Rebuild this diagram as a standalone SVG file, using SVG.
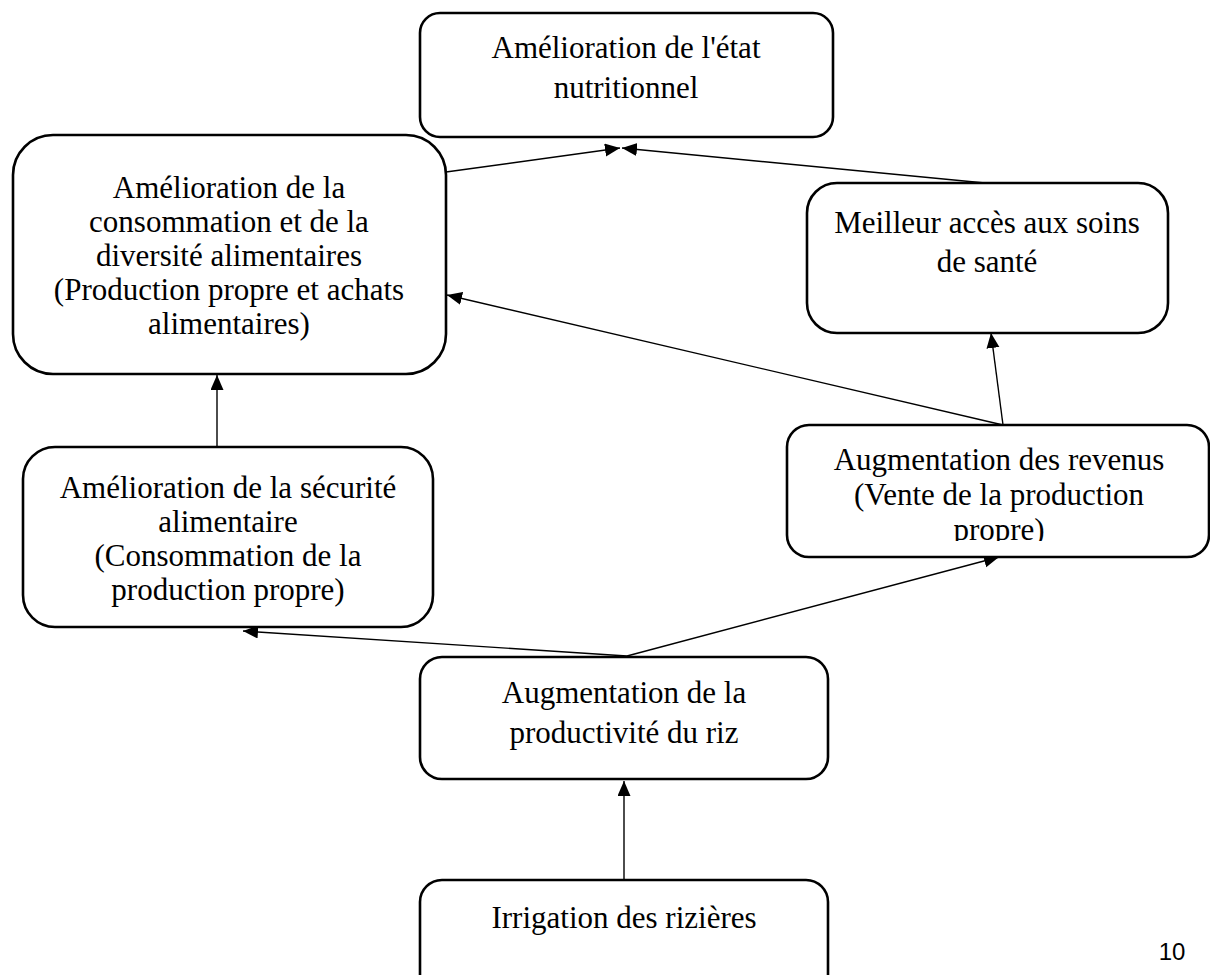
<svg xmlns="http://www.w3.org/2000/svg" width="1210" height="975" viewBox="0 0 1210 975">
<defs>
<marker id="arr" markerUnits="userSpaceOnUse" markerWidth="16" markerHeight="14" refX="15" refY="6.5" orient="auto">
<path d="M0,0 L15,6.5 L0,13 z" fill="#000"/>
</marker>
<clipPath id="clip4"><rect x="780" y="420" width="440" height="121"/></clipPath>
</defs>
<style>
.box{fill:#fff;stroke:#000;stroke-width:2.6}
.t{font-family:"Liberation Serif","Times New Roman",serif;font-size:31px;fill:#000;text-anchor:middle}
.c{stroke:#000;stroke-width:1.4;fill:none;marker-end:url(#arr)}
.pn{font-family:"Liberation Sans",Arial,sans-serif;font-size:24px;fill:#000;text-anchor:middle}
</style>
<rect width="1210" height="975" fill="#fff"/>
<g id="connectors">
<line class="c" x1="446" y1="172" x2="620" y2="148"/>
<line class="c" x1="985" y1="183" x2="622" y2="148"/>
<line class="c" x1="1003" y1="425" x2="447" y2="295"/>
<line class="c" x1="1003" y1="425" x2="991" y2="333"/>
<line class="c" x1="217" y1="447" x2="217" y2="375"/>
<line class="c" x1="627" y1="656" x2="243" y2="631"/>
<line class="c" x1="627" y1="656" x2="999" y2="557"/>
<line class="c" x1="624" y1="880" x2="624" y2="781"/>
</g>
<g id="n1">
<rect class="box" x="420" y="13" width="413" height="124" rx="20"/>
<text class="t" x="626" y="58">Amélioration de l'état</text>
<text class="t" x="626" y="98">nutritionnel</text>
</g>
<g id="n2">
<rect class="box" x="13" y="135" width="433" height="239" rx="40"/>
<text class="t" x="229" y="198">Amélioration de la</text>
<text class="t" x="229" y="232">consommation et de la</text>
<text class="t" x="229" y="266">diversité alimentaires</text>
<text class="t" x="229" y="300">(Production propre et achats</text>
<text class="t" x="229" y="334">alimentaires)</text>
</g>
<g id="n3">
<rect class="box" x="807" y="183" width="361" height="150" rx="30"/>
<text class="t" x="987" y="233">Meilleur accès aux soins</text>
<text class="t" x="987" y="272">de santé</text>
</g>
<g id="n4">
<rect class="box" x="787" y="425" width="422" height="132" rx="22"/>
<g clip-path="url(#clip4)">
<text class="t" x="999" y="470">Augmentation des revenus</text>
<text class="t" x="999" y="505">(Vente de la production</text>
<text class="t" x="999" y="540">propre)</text>
</g>
</g>
<g id="n5">
<rect class="box" x="23" y="447" width="410" height="180" rx="32"/>
<text class="t" x="228" y="498">Amélioration de la sécurité</text>
<text class="t" x="228" y="532">alimentaire</text>
<text class="t" x="228" y="566">(Consommation de la</text>
<text class="t" x="228" y="600">production propre)</text>
</g>
<g id="n6">
<rect class="box" x="420" y="657" width="408" height="122" rx="22"/>
<text class="t" x="624" y="703">Augmentation de la</text>
<text class="t" x="624" y="743">productivité du riz</text>
</g>
<g id="n7">
<rect class="box" x="420" y="880" width="408" height="120" rx="22"/>
<text class="t" x="624" y="928">Irrigation des rizières</text>
</g>
<text class="pn" x="1172" y="960">10</text>
</svg>
